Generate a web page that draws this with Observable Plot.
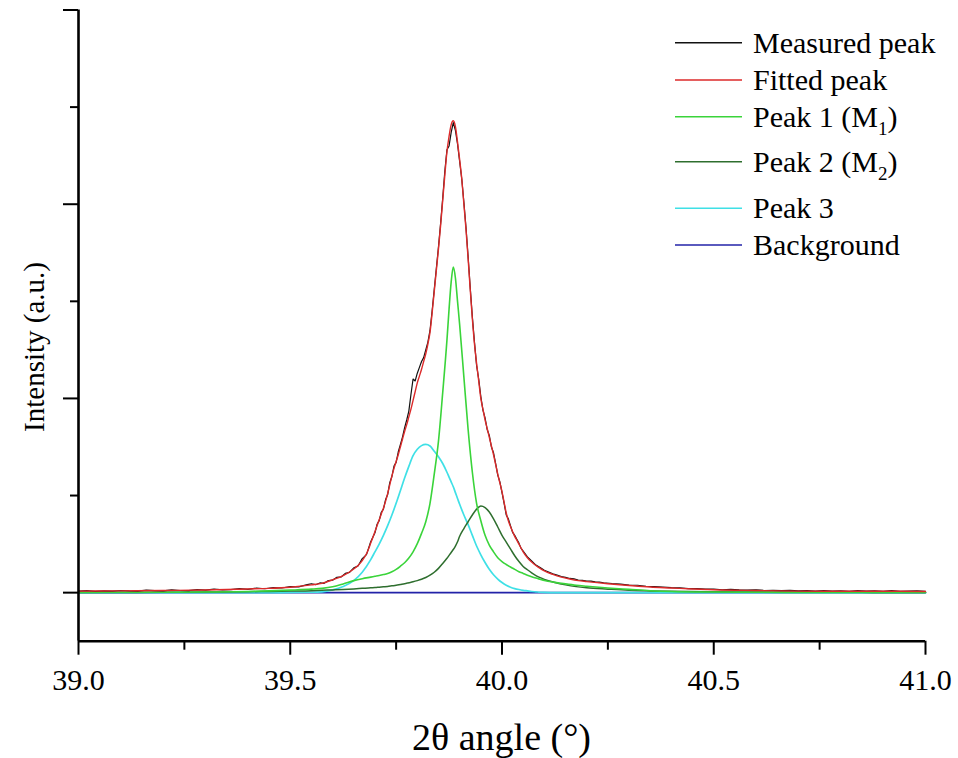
<!DOCTYPE html>
<html><head><meta charset="utf-8">
<script src="https://cdn.jsdelivr.net/npm/d3@7"></script>
<script src="https://cdn.jsdelivr.net/npm/@observablehq/plot@0.6"></script>
<style>html,body{margin:0;padding:0;background:#fff;}#chart{width:958px;height:758px;}#chart svg text{font-family:"Liberation Serif","Times New Roman",serif !important;}</style>
</head><body><div id="chart"></div>
<script>
// ---------- scales / ticks ----------
const xDomain = [39, 41];
const yDomain = [-0.25, 3];
const xMajorTicks = [39.0, 39.5, 40.0, 40.5, 41.0];
const xMinorTicks = [39.25, 39.75, 40.25, 40.75];
const yMajorTicks = [0, 1, 2, 3];
const yMinorTicks = [0.5, 1.5, 2.5];
const xTitle = "2θ angle (°)";
const yTitle = "Intensity (a.u.)";

// ---------- series names / colours ----------
const seriesNames = ["Measured peak", "Fitted peak", "Peak 1 (M", "Peak 2 (M", "Peak 3", "Background"];
const seriesSubs = ["", "", "1", "2", "", ""];
const seriesColors = ["#111111", "#dc2a2a", "#3ad43a", "#2e6e2e", "#3fe0e6", "#2323a8"];

// ---------- measured peak ----------
const measAngle = [
39.00,39.02,39.04,39.06,39.08,39.10,39.12,39.14,39.16,39.18,39.20,39.22,39.24,39.26,39.28,39.30,39.32,39.34,39.36,39.38,39.40,39.42,39.44,39.46,39.48,39.50,39.52,39.54,
39.55,39.56,39.57,39.58,39.59,39.60,39.61,39.62,39.63,39.64,39.65,39.66,39.67,39.68,39.69,
39.700,39.705,39.710,39.715,39.720,39.725,39.730,39.735,39.740,39.745,
39.750,39.755,39.760,39.765,39.770,39.775,39.780,39.785,39.790,39.795,
39.800,39.805,39.810,39.815,39.820,39.825,39.830,39.835,39.840,39.845,
39.850,39.855,39.860,39.865,39.870,39.875,39.880,39.885,39.890,39.895,
39.900,39.905,39.910,39.915,39.920,39.925,39.930,39.935,39.940,39.945,
39.950,39.955,39.960,39.965,39.970,39.975,39.980,39.985,39.990,39.995,
40.000,40.005,40.010,40.015,40.020,40.025,40.030,40.035,40.040,40.045,40.050,
40.06,40.07,40.08,40.09,40.10,40.11,40.12,40.13,40.14,40.15,40.16,40.17,40.18,40.19,40.20,40.21,40.22,40.23,40.24,
40.26,40.28,40.30,40.32,40.34,40.36,40.38,40.40,40.42,40.44,40.46,40.48,40.50,40.52,40.54,40.56,40.58,40.60,40.62,40.64,
40.66,40.68,40.70,40.72,40.74,40.76,40.78,40.80,40.82,40.84,40.86,40.88,40.90,40.92,40.94,40.96,40.98,41.00
];
const measured = [
.008,.010,.007,.009,.008,.011,.009,.008,.013,.010,.009,.014,.011,.010,.016,.013,.018,.014,.016,.021,.017,.023,.020,.026,.024,.031,.030,.041,
.046,.041,.050,.048,.062,.064,.079,.081,.099,.104,.128,.137,.175,.196,.262,
.308,.352,.371,.414,.430,.478,.505,.566,.598,.652,
.671,.724,.762,.801,.848,.889,.935,1.02,1.10,1.09,
1.13,1.16,1.19,1.21,1.25,1.29,1.35,1.45,1.56,1.67,
1.78,1.90,2.03,2.17,2.28,2.30,2.37,2.42,2.38,2.31,
2.22,2.13,2.01,1.88,1.73,1.57,1.42,1.29,1.17,1.10,
1.01,.94,.90,.84,.81,.75,.72,.665,.605,.57,
.515,.46,.40,.38,.345,.31,.295,.275,.255,.228,.214,
.184,.163,.142,.129,.115,.106,.097,.091,.083,.079,.073,.071,.065,.063,.060,.059,.055,.054,.051,
.047,.044,.039,.038,.033,.031,.029,.026,.025,.021,.021,.018,.018,.015,.017,.014,.013,.014,.011,.012,
.010,.012,.009,.010,.008,.011,.008,.009,.007,.010,.008,.009,.007,.010,.007,.008,.009,.007
];

// ---------- fitted peak ----------
const fitAngle = [
39.00,39.10,39.20,39.30,39.40,39.45,39.50,39.55,39.575,39.60,39.625,39.65,39.66,39.67,39.68,39.69,
39.700,39.705,39.710,39.715,39.720,39.725,39.730,39.735,39.740,39.745,
39.750,39.755,39.760,39.765,39.770,39.775,39.780,39.785,39.790,39.795,
39.800,39.805,39.810,39.815,39.820,39.825,39.830,39.835,39.840,39.845,
39.850,39.855,39.860,39.865,39.870,39.875,39.880,39.885,39.890,39.895,
39.900,39.905,39.910,39.915,39.920,39.925,39.930,39.935,39.940,39.945,
39.950,39.955,39.960,39.965,39.970,39.975,39.980,39.985,39.990,39.995,
40.000,40.005,40.010,40.015,40.020,40.025,40.030,40.035,40.040,40.045,40.050,
40.06,40.07,40.08,40.09,40.10,40.12,40.14,40.16,40.18,40.20,40.25,40.30,40.35,40.40,40.45,40.50,40.60,40.70,40.80,40.90,41.00
];
const fitted = [
.008,.009,.011,.014,.019,.022,.028,.040,.048,.066,.088,.122,.140,.165,.200,.255,
.315,.345,.375,.405,.435,.470,.510,.555,.600,.640,
.675,.710,.750,.790,.830,.865,.905,.945,.990,1.035,
1.080,1.115,1.150,1.190,1.230,1.280,1.340,1.440,1.550,1.660,
1.770,1.890,2.020,2.150,2.270,2.350,2.410,2.430,2.400,2.320,
2.230,2.130,2.000,1.870,1.720,1.560,1.410,1.280,1.180,1.090,
1.000,.945,.890,.845,.800,.755,.710,.660,.610,.565,
.520,.465,.410,.370,.340,.315,.290,.270,.250,.230,.210,
.180,.158,.140,.125,.112,.094,.080,.070,.062,.057,.046,.037,.029,.024,.019,.015,.011,.008,.007,.007,.006
];

// ---------- component peaks ----------
const compAngle = [
39.00,39.10,39.20,39.30,39.40,39.45,39.50,39.55,39.575,39.60,39.625,39.65,39.67,39.69,
39.70,39.71,39.72,39.73,39.74,39.75,39.76,39.77,39.78,39.79,39.80,39.81,39.82,39.83,39.84,39.85,39.86,39.87,
39.875,39.88,39.885,39.89,39.895,
39.90,39.91,39.92,39.93,39.94,39.95,39.96,39.97,39.98,39.99,40.00,40.01,40.02,40.03,40.04,40.05,40.06,40.07,40.08,40.09,40.10,
40.125,40.15,40.175,40.20,40.25,40.30,40.35,40.40,40.50,40.60,40.70,40.80,40.90,41.00
];
const peak1 = [
.001,.002,.002,.003,.006,.009,.013,.018,.022,.030,.045,.062,.072,.080,
.084,.088,.093,.099,.108,.120,.136,.154,.178,.210,.252,.305,.365,.460,.610,.780,1.030,1.300,
1.460,1.600,1.676,1.620,1.500,
1.380,1.110,.840,.620,.460,.370,.295,.245,.210,.180,.160,.145,.132,.120,.108,.099,.090,.082,.075,.069,.063,
.053,.045,.038,.033,.024,.017,.010,.006,.003,.002,.001,.001,.001,.001
];
const peak2 = [
.001,.001,.002,.003,.005,.006,.008,.010,.012,.014,.016,.019,.022,.025,
.026,.028,.030,.032,.035,.038,.042,.046,.051,.056,.062,.069,.078,.090,.105,.125,.150,.177,
.192,.207,.222,.240,.262,
.290,.330,.365,.400,.430,.446,.438,.415,.380,.338,.295,.260,.225,.190,.160,.135,.118,.102,.088,.077,.068,
.052,.040,.031,.025,.018,.012,.009,.007,.004,.003,.002,.002,.001,.001
];
const peak3 = [
0,0,0,0,0,0,.001,.002,.004,.014,.032,.062,.105,.170,
.210,.250,.295,.345,.400,.460,.525,.590,.650,.705,.738,.757,.763,.755,.728,.700,.665,.620,
.595,.570,.545,.515,.485,
.455,.400,.350,.295,.240,.195,.155,.120,.092,.070,.052,.038,.028,.021,.016,.012,.009,.006,.004,.002,.001,
0,0,0,0,0,0,0,0,0,0,0,0,0,0
];

// ---------- background ----------
const bgAngle = [39.0, 41.0];
const background = [0, 0];

// ---------- build ----------
const rows = (xs, ys) => xs.map((x, i) => ({x, y: ys[i]}));
const noLabel = () => "";
const font = "'Liberation Serif','Times New Roman',serif";

const plot = Plot.plot({
  width: 958, height: 758,
  marginLeft: 78, marginRight: 33, marginTop: 9.5, marginBottom: 117.3,
  x: {domain: xDomain, label: null},
  y: {domain: yDomain, label: null},
  style: {fontFamily: font, background: "#ffffff", color: "#000000"},
  marks: [
    Plot.line(rows(bgAngle, background), {x: "x", y: "y", stroke: seriesColors[5], strokeWidth: 1.6}),
    Plot.line(rows(compAngle, peak3), {x: "x", y: "y", stroke: seriesColors[4], strokeWidth: 1.7, curve: "monotone-x"}),
    Plot.line(rows(compAngle, peak2), {x: "x", y: "y", stroke: seriesColors[3], strokeWidth: 1.5, curve: "monotone-x"}),
    Plot.line(rows(compAngle, peak1), {x: "x", y: "y", stroke: seriesColors[2], strokeWidth: 1.6, curve: "monotone-x"}),
    Plot.line(rows(measAngle, measured), {x: "x", y: "y", stroke: seriesColors[0], strokeWidth: 1.2}),
    Plot.line(rows(fitAngle, fitted), {x: "x", y: "y", stroke: seriesColors[1], strokeWidth: 1.4, curve: "monotone-x"}),
    Plot.ruleX([xDomain[0]], {stroke: "#000", strokeWidth: 2.6}),
    Plot.ruleY([yDomain[0]], {stroke: "#000", strokeWidth: 2.6}),
    Plot.axisX({ticks: xMajorTicks, tickSize: 14, tickPadding: 13, tickFormat: d3.format(".1f"), fontSize: 30, strokeWidth: 2}),
    Plot.axisX({ticks: xMinorTicks, tickSize: 9, tickFormat: noLabel, strokeWidth: 2}),
    Plot.axisY({ticks: yMajorTicks, tickSize: 15, tickFormat: noLabel, strokeWidth: 2}),
    Plot.axisY({ticks: yMinorTicks, tickSize: 8, tickFormat: noLabel, strokeWidth: 2})
  ]
});

document.getElementById("chart").appendChild(plot);

// ---------- axis titles & legend ----------
const svg = d3.select(plot);
svg.selectAll("text").attr("font-family", font).style("font-family", font).style("font-variant", "normal");
const xr = plot.scale("x").range;

svg.append("text")
  .attr("x", (xr[0] + xr[1]) / 2).attr("y", 750)
  .attr("text-anchor", "middle").attr("font-family", font).attr("font-size", 38).attr("fill", "#000")
  .text(xTitle);

svg.append("text")
  .attr("transform", "translate(44,347) rotate(-90)")
  .attr("text-anchor", "middle").attr("font-family", font).attr("font-size", 29).attr("fill", "#000")
  .text(yTitle);

const legendLineY = [42.7, 80, 116.7, 161.7, 208.3, 245];
const legend = svg.append("g").attr("transform", "translate(675,0)");
seriesNames.forEach((name, i) => {
  legend.append("line")
    .attr("x1", 0).attr("x2", 67).attr("y1", legendLineY[i]).attr("y2", legendLineY[i])
    .attr("stroke", seriesColors[i]).attr("stroke-width", 1.5);
  const t = legend.append("text")
    .attr("x", 78).attr("y", legendLineY[i] + 10)
    .attr("text-anchor", "start")
    .attr("font-family", font).attr("font-size", 30).attr("fill", "#000");
  t.append("tspan").text(name);
  if (seriesSubs[i]) {
    t.append("tspan").attr("dy", 8).attr("font-size", 19).text(seriesSubs[i]);
    t.append("tspan").attr("dy", -8).text(")");
  }
});
</script>
</body></html>
